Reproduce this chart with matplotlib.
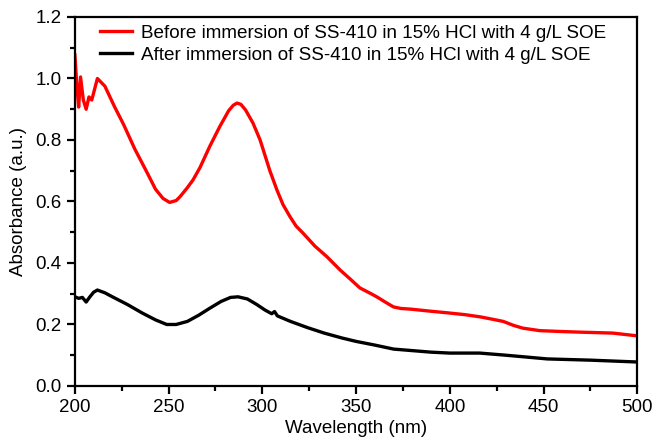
from matplotlib import pyplot as plt
from matplotlib.ticker import MultipleLocator

plt.rcParams['font.family'] = ['Liberation Sans', 'DejaVu Sans']

label_before = 'Before immersion of SS-410 in 15% HCl with 4 g/L SOE'
label_after = 'After immersion of SS-410 in 15% HCl with 4 g/L SOE'

x_before = [200, 201, 202, 203, 204.5, 206, 207.5, 209, 212, 216, 221, 226, 232, 238,
            243, 247, 250.5, 254, 256, 260, 263, 266.7, 272, 277.4, 282, 284.5, 286.5,
            288.5, 291, 295, 298.8, 304, 307.8, 311, 314.8, 318, 321.7, 328, 334.5,
            341.5, 347, 352, 358, 361, 365, 368, 370, 374, 379, 390, 398.6, 408, 416,
            422, 428.5, 434, 439, 448, 460, 470, 487, 500]
y_before = [1.076, 0.98, 0.907, 1.005, 0.93, 0.90, 0.94, 0.93, 1.0, 0.975, 0.91, 0.85,
            0.77, 0.70, 0.64, 0.61, 0.597, 0.603, 0.615, 0.645, 0.67, 0.71, 0.78, 0.845,
            0.895, 0.913, 0.92, 0.916, 0.898, 0.855, 0.80, 0.70, 0.637, 0.59, 0.55,
            0.52, 0.497, 0.455, 0.42, 0.377, 0.347, 0.319, 0.30, 0.29, 0.275, 0.264,
            0.257, 0.252, 0.25, 0.243, 0.238, 0.232, 0.225, 0.218, 0.21, 0.197, 0.188,
            0.18, 0.177, 0.175, 0.172, 0.163]

x_after = [200, 202, 204, 206, 208, 210, 212, 216, 220, 228, 236, 243, 249, 254, 260,
           266, 272, 278, 283, 287, 292, 297, 301.4, 305, 306.5, 308, 315, 324, 333,
           342.5, 350, 360, 370, 380, 390, 400, 416, 430, 452, 475, 500]
y_after = [0.29, 0.285, 0.288, 0.273, 0.29, 0.305, 0.312, 0.303, 0.29, 0.265, 0.237,
           0.215, 0.2, 0.2, 0.21, 0.23, 0.253, 0.275, 0.288, 0.29, 0.283, 0.265, 0.247,
           0.235, 0.242, 0.228, 0.21, 0.19, 0.172, 0.156, 0.145, 0.133, 0.12, 0.115,
           0.11, 0.107, 0.107, 0.1, 0.088, 0.084, 0.078]

fig = plt.figure(figsize=(6.57, 4.47), dpi=100)
ax = fig.add_axes([0.114, 0.1365, 0.856, 0.8255])

ax.plot(x_before, y_before, color='#ff0000', lw=2.4, label=label_before)
ax.plot(x_after, y_after, color='black', lw=2.4, label=label_after)

ax.set_xlim(200, 500)
ax.set_ylim(0, 1.2)
ax.xaxis.set_major_locator(MultipleLocator(50))
ax.xaxis.set_minor_locator(MultipleLocator(25))
ax.yaxis.set_major_locator(MultipleLocator(0.2))
ax.yaxis.set_minor_locator(MultipleLocator(0.1))
ax.yaxis.set_major_formatter(plt.FormatStrFormatter('%.1f'))
ax.tick_params(which='major', direction='out', length=6, width=1.6, labelsize=13.5)
ax.tick_params(which='minor', direction='out', length=3.5, width=1.6)
for s in ax.spines.values():
    s.set_linewidth(1.6)

ax.set_xlabel('Wavelength (nm)', fontsize=13.5, labelpad=3)
ax.set_ylabel('Absorbance (a.u.)', fontsize=13.5, labelpad=6)

ax.legend(loc='upper left', bbox_to_anchor=(0.015, 1.025), frameon=False, fontsize=13.6,
          handlelength=1.7, handletextpad=0.45, labelspacing=0.25)

plt.savefig('out.png', dpi=100)
